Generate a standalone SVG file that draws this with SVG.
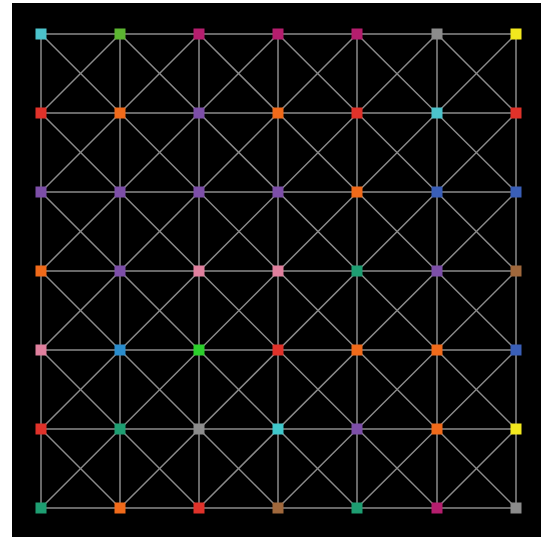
<svg xmlns="http://www.w3.org/2000/svg" width="541" height="537" viewBox="0 0 541 537">
<style>
.e{stroke:#8a8a8a;stroke-width:1.5;fill:none}
.n{stroke:none}
</style>
<rect width="541" height="537" fill="#ffffff"/>
<rect x="12" y="3" width="529" height="534" fill="#000000"/>
<g id="connectors" class="e">
<path d="M41,34H516M41,113H516M41,192H516M41,271H516M41,350H516M41,429H516M41,508H516"/>
<path d="M41,34V508M120,34V508M199,34V508M278,34V508M357,34V508M437,34V508M516,34V508"/>
<path d="M41,34L516,508M41,113L437,508M41,192L357,508M41,271L278,508M41,350L199,508M41,429L120,508M120,34L516,429M199,34L516,350M278,34L516,271M357,34L516,192M437,34L516,113"/>
<path d="M516,34L41,508M437,34L41,429M357,34L41,350M278,34L41,271M199,34L41,192M120,34L41,113M516,113L120,508M516,192L199,508M516,271L278,508M516,350L357,508M516,429L437,508"/>
</g>
<g id="nodes">
<g id="n00"><rect class="n" x="35.5" y="28.5" width="11" height="11" fill="#4cc3cc"/></g>
<g id="n01"><rect class="n" x="114.5" y="28.5" width="11" height="11" fill="#5cb531"/></g>
<g id="n02"><rect class="n" x="193.5" y="28.5" width="11" height="11" fill="#b51e6e"/></g>
<g id="n03"><rect class="n" x="272.5" y="28.5" width="11" height="11" fill="#b51e6e"/></g>
<g id="n04"><rect class="n" x="351.5" y="28.5" width="11" height="11" fill="#b51e6e"/></g>
<g id="n05"><rect class="n" x="431.5" y="28.5" width="11" height="11" fill="#8c8c8c"/></g>
<g id="n06"><rect class="n" x="510.5" y="28.5" width="11" height="11" fill="#f2e81e"/></g>

<g id="n10"><rect class="n" x="35.5" y="107.5" width="11" height="11" fill="#e0322a"/></g>
<g id="n11"><rect class="n" x="114.5" y="107.5" width="11" height="11" fill="#f06a1a"/></g>
<g id="n12"><rect class="n" x="193.5" y="107.5" width="11" height="11" fill="#7d4fa8"/></g>
<g id="n13"><rect class="n" x="272.5" y="107.5" width="11" height="11" fill="#f06a1a"/></g>
<g id="n14"><rect class="n" x="351.5" y="107.5" width="11" height="11" fill="#e0322a"/></g>
<g id="n15"><rect class="n" x="431.5" y="107.5" width="11" height="11" fill="#4cc3cc"/></g>
<g id="n16"><rect class="n" x="510.5" y="107.5" width="11" height="11" fill="#e0322a"/></g>

<g id="n20"><rect class="n" x="35.5" y="186.5" width="11" height="11" fill="#7d4fa8"/></g>
<g id="n21"><rect class="n" x="114.5" y="186.5" width="11" height="11" fill="#7d4fa8"/></g>
<g id="n22"><rect class="n" x="193.5" y="186.5" width="11" height="11" fill="#7d4fa8"/></g>
<g id="n23"><rect class="n" x="272.5" y="186.5" width="11" height="11" fill="#7d4fa8"/></g>
<g id="n24"><rect class="n" x="351.5" y="186.5" width="11" height="11" fill="#f06a1a"/></g>
<g id="n25"><rect class="n" x="431.5" y="186.5" width="11" height="11" fill="#3a5fb8"/></g>
<g id="n26"><rect class="n" x="510.5" y="186.5" width="11" height="11" fill="#3a5fb8"/></g>

<g id="n30"><rect class="n" x="35.5" y="265.5" width="11" height="11" fill="#f06a1a"/></g>
<g id="n31"><rect class="n" x="114.5" y="265.5" width="11" height="11" fill="#7d4fa8"/></g>
<g id="n32"><rect class="n" x="193.5" y="265.5" width="11" height="11" fill="#e0809e"/></g>
<g id="n33"><rect class="n" x="272.5" y="265.5" width="11" height="11" fill="#e0809e"/></g>
<g id="n34"><rect class="n" x="351.5" y="265.5" width="11" height="11" fill="#1e9e72"/></g>
<g id="n35"><rect class="n" x="431.5" y="265.5" width="11" height="11" fill="#7d4fa8"/></g>
<g id="n36"><rect class="n" x="510.5" y="265.5" width="11" height="11" fill="#a0683c"/></g>

<g id="n40"><rect class="n" x="35.5" y="344.5" width="11" height="11" fill="#e0809e"/></g>
<g id="n41"><rect class="n" x="114.5" y="344.5" width="11" height="11" fill="#2a8ccc"/></g>
<g id="n42"><rect class="n" x="193.5" y="344.5" width="11" height="11" fill="#2bd02b"/></g>
<g id="n43"><rect class="n" x="272.5" y="344.5" width="11" height="11" fill="#e0322a"/></g>
<g id="n44"><rect class="n" x="351.5" y="344.5" width="11" height="11" fill="#f06a1a"/></g>
<g id="n45"><rect class="n" x="431.5" y="344.5" width="11" height="11" fill="#f06a1a"/></g>
<g id="n46"><rect class="n" x="510.5" y="344.5" width="11" height="11" fill="#3a5fb8"/></g>

<g id="n50"><rect class="n" x="35.5" y="423.5" width="11" height="11" fill="#e0322a"/></g>
<g id="n51"><rect class="n" x="114.5" y="423.5" width="11" height="11" fill="#1e9e72"/></g>
<g id="n52"><rect class="n" x="193.5" y="423.5" width="11" height="11" fill="#8c8c8c"/></g>
<g id="n53"><rect class="n" x="272.5" y="423.5" width="11" height="11" fill="#40c8cc"/></g>
<g id="n54"><rect class="n" x="351.5" y="423.5" width="11" height="11" fill="#7d4fa8"/></g>
<g id="n55"><rect class="n" x="431.5" y="423.5" width="11" height="11" fill="#f06a1a"/></g>
<g id="n56"><rect class="n" x="510.5" y="423.5" width="11" height="11" fill="#f2e81e"/></g>

<g id="n60"><rect class="n" x="35.5" y="502.5" width="11" height="11" fill="#1e9e72"/></g>
<g id="n61"><rect class="n" x="114.5" y="502.5" width="11" height="11" fill="#f06a1a"/></g>
<g id="n62"><rect class="n" x="193.5" y="502.5" width="11" height="11" fill="#e0322a"/></g>
<g id="n63"><rect class="n" x="272.5" y="502.5" width="11" height="11" fill="#a0683c"/></g>
<g id="n64"><rect class="n" x="351.5" y="502.5" width="11" height="11" fill="#1e9e72"/></g>
<g id="n65"><rect class="n" x="431.5" y="502.5" width="11" height="11" fill="#b51e6e"/></g>
<g id="n66"><rect class="n" x="510.5" y="502.5" width="11" height="11" fill="#8c8c8c"/></g>
</g>
</svg>
